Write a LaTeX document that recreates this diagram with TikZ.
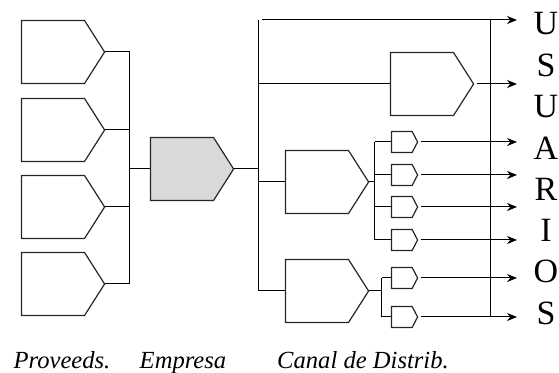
\documentclass[tikz,border=0pt]{standalone}
\usepackage{fontspec}
\setmainfont{Liberation Serif}
\usetikzlibrary{shapes.symbols,arrows.meta}

\tikzset{
  big/.style={signal, signal to=east, signal pointer angle=115, draw=black!85,
    line width=.6pt, inner sep=0pt, minimum width=41.5pt, minimum height=31.5pt,
    anchor=west},
  small/.style={signal, signal to=east, signal pointer angle=125, draw=black!85,
    line width=.6pt, inner sep=0pt, minimum width=13pt, minimum height=10.5pt,
    anchor=west},
  wire/.style={line width=.5pt},
  flow/.style={wire, -{Stealth[length=5pt,width=4pt]}, shorten <=1.5pt},
  letra/.style={font=\fontsize{17}{19}\selectfont},
  rotulo/.style={font=\fontsize{12.3}{14}\selectfont\itshape, anchor=base}
}

\begin{document}
\begin{tikzpicture}[x=0.5pt,y=-0.5pt]
  \useasboundingbox (0,0) rectangle (559,373);
  \def \fin {517} % x where the arrows stop

  % proveedores
  \foreach \y [count=\i] in {52,130,207,284}
    \node[big] (prov\i) at (21,\y) {};
  \coordinate (pbus) at (130,169);
  \foreach \i in {1,...,4}
    \draw[wire] (prov\i.east) -- (prov\i.east -| pbus);
  \draw[wire] (prov1.east -| pbus) -- (prov4.east -| pbus);

  % empresa
  \node[big, fill=black!15] (emp) at (150,169) {};
  \draw[wire] (pbus) -- (emp.west);

  % canal de distribucion
  \coordinate (dbus) at (259,20);
  \coordinate (fin) at (\fin,20);
  \coordinate (dir) at (491,20);
  \node[big] (c1) at (390,84) {};
  \node[big] (c2) at (285,182) {};
  \node[big] (c3) at (285,291) {};
  \foreach \y [count=\i] in {142,175,207,240}
    \node[small] (a\i) at (391,\y) {};
  \foreach \y [count=\i] in {278,317}
    \node[small] (b\i) at (391,\y) {};

  \draw[wire] (emp.east) -- (emp.east -| dbus);
  \draw[wire] (dbus) -- (c3.west -| dbus);
  \foreach \n in {c1,c2,c3}
    \draw[wire] (\n.west -| dbus) -- (\n.west);

  % sub-canales
  \coordinate (abus) at (375,0);
  \coordinate (bbus) at (382,0);
  \draw[wire] (c2.east) -- (c2.east -| abus);
  \draw[wire] (a1.west -| abus) -- (a4.west -| abus);
  \foreach \i in {1,...,4}
    \draw[wire] (a\i.west -| abus) -- (a\i.west);
  \draw[wire] (c3.east) -- (c3.east -| bbus);
  \draw[wire] (b1.west -| bbus) -- (b2.west -| bbus);
  \foreach \i in {1,2}
    \draw[wire] (b\i.west -| bbus) -- (b\i.west);

  % flechas a los usuarios
  \draw[flow] (dbus) -- (fin);
  \draw[wire] (dir) -- (dir |- b2.east);
  \draw[flow] (c1.east) -- (c1.east -| fin);
  \foreach \n in {a1,a2,a3,a4,b1,b2}
    \draw[flow] (\n.east) -- (\n.east -| fin);

  \foreach \l [count=\i] in {U,S,U,A,R,I,O,S}
    \node[letra] (u\i) at (546,{24+41.3*(\i-1)}) {\l};

  \node[rotulo] (lprov) at (62,369) {Proveeds.};
  \node[rotulo] (lemp) at (183,369) {Empresa};
  \node[rotulo] (lcanal) at (363,369) {Canal de Distrib.};
\end{tikzpicture}
\end{document}
